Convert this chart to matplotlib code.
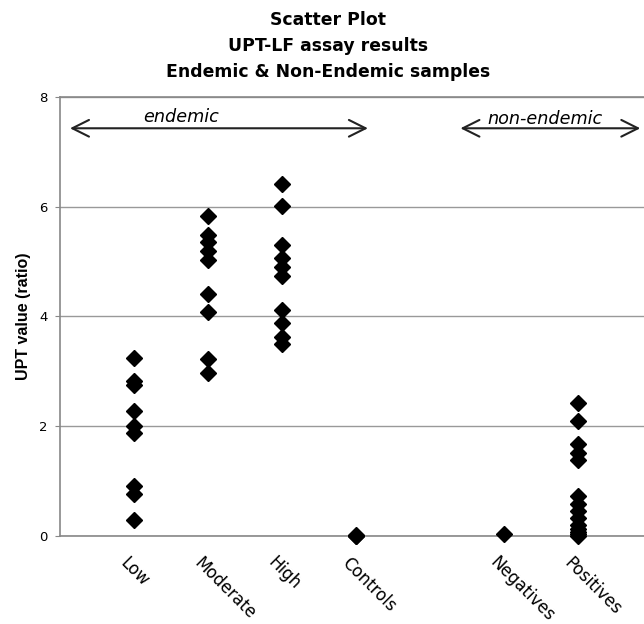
import matplotlib
matplotlib.use("Agg")
import matplotlib.pyplot as plt
from matplotlib.transforms import ScaledTranslation

plt.rcParams['font.family'] = ['DejaVu Sans']

# category names and their slot on the x axis (slot 5 is left empty)
categories = ['Low', 'Moderate', 'High', 'Controls', 'Negatives', 'Positives']
slots = [1, 2, 3, 4, 6, 7]

low = [3.25, 2.82, 2.75, 2.28, 2.01, 1.88, 0.91, 0.77, 0.30]
moderate = [5.83, 5.48, 5.35, 5.2, 5.03, 4.41, 4.08, 3.23, 2.97]
high = [6.41, 6.01, 5.31, 5.07, 4.9, 4.74, 4.12, 3.88, 3.63, 3.5]
controls = [0.0, 0.0, 0.01]
negatives = [0.04]
positives = [2.42, 2.1, 1.67, 1.52, 1.38, 0.73, 0.58, 0.46, 0.33, 0.2, 0.13, 0.07, 0.03, 0.0]

groups = [low, moderate, high, controls, negatives, positives]

fig = plt.figure(figsize=(6.44, 6.24), dpi=100)
ax = fig.add_axes([60 / 644, 88 / 624, 584 / 644, 439 / 624])

for pos, vals in zip(slots, groups):
    ax.plot([pos] * len(vals), vals, linestyle='none', marker='D',
            markersize=8.5, color='black', clip_on=False, zorder=3)

ax.set_xlim(0, 7.89)
ax.set_ylim(0, 8)
ax.set_yticks([0, 2, 4, 6, 8])
ax.yaxis.grid(True, color='#999999', linewidth=1)
ax.set_axisbelow(True)

for side in ['left', 'bottom', 'top']:
    ax.spines[side].set_color('#888888')
    ax.spines[side].set_linewidth(1.2)
ax.spines['right'].set_visible(False)

ax.tick_params(axis='y', length=3.6, color='#888888', labelsize=9.5, pad=5.5)
ax.set_xticks(slots)
ax.set_xticklabels(categories)
ax.tick_params(axis='x', length=0, labelsize=12, pad=12)
for lab in ax.get_xticklabels():
    lab.set_rotation(-45)
    lab.set_ha('left')
    lab.set_va('top')
    lab.set_rotation_mode('anchor')
    lab.set_transform(lab.get_transform() + ScaledTranslation(-0.05, -0.01, fig.dpi_scale_trans))

ax.set_ylabel('UPT value (ratio)', fontsize=11.5, fontweight='bold', labelpad=6,
              family='Liberation Sans')

title_lines = ['Scatter Plot', 'UPT-LF assay results', 'Endemic & Non-Endemic samples']
for i, line in enumerate(title_lines):
    fig.text(328 / 644, 1 - (20 + 26 * i) / 624, line, ha='center', va='center',
             fontsize=12.4, fontweight='bold')

# group brackets
arrow = dict(arrowstyle='<->', color='#222222', lw=1.5, mutation_scale=30,
             shrinkA=0, shrinkB=0)
ax.annotate('', xy=(0.135, 7.43), xytext=(4.16, 7.43), arrowprops=arrow)
ax.annotate('', xy=(5.41, 7.43), xytext=(7.84, 7.43), arrowprops=arrow)
ax.text(1.63, 7.55, 'endemic', ha='center', va='baseline', fontsize=12.7, style='italic')
ax.text(6.55, 7.5, 'non-endemic', ha='center', va='baseline', fontsize=12.7, style='italic')

fig.savefig('out.png', dpi=100)
